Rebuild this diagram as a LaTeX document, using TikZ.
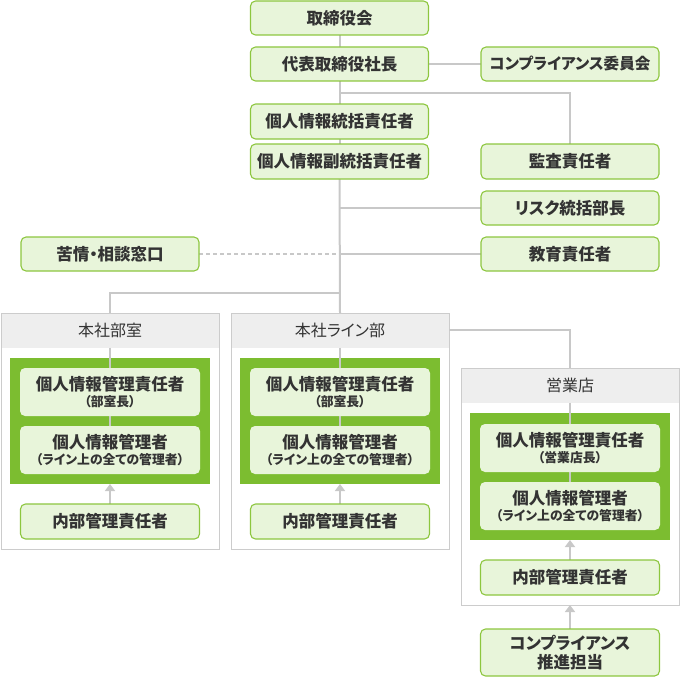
\documentclass[tikz,border=0pt]{standalone}
\usepackage{fontspec}
\setmainfont{Noto Sans CJK JP}[RawFeature=+palt]
\usetikzlibrary{arrows.meta}
\definecolor{gfill}{HTML}{E8F5DA}
\definecolor{gbord}{HTML}{8DC63F}
\definecolor{gpanel}{HTML}{7CBD30}
\definecolor{lgray}{HTML}{C8C8C8}
\definecolor{hgray}{HTML}{EEEEEE}
\definecolor{obord}{HTML}{CCCCCC}
\definecolor{txt}{HTML}{333333}
\pgfdeclarelayer{back}
\pgfdeclarelayer{mid}
\pgfsetlayers{back,mid,main}
\tikzset{
  gbox/.style={draw=gbord, fill=gfill, rounded corners=5pt, line width=1.1pt,
    inner sep=0pt, outer sep=0pt, minimum width=178pt, minimum height=34pt,
    text=txt, font=\fontsize{16.5}{18}\selectfont\bfseries, align=center},
  tallbox/.style={gbox, draw=none, minimum width=180pt, minimum height=48pt},
  conn/.style={draw=lgray, line width=2pt},
  dconn/.style={draw=lgray, line width=1.4pt, dash pattern=on 4pt off 3pt},
  arr/.style={draw=lgray, line width=2pt, -{Triangle[width=10pt,length=7pt]}},
  outer/.style={draw=obord, fill=white, line width=1pt},
  head/.style={fill=hgray, inner sep=0pt, outer sep=0pt, text=txt,
    font=\fontsize{16}{18}\selectfont},
  panel/.style={fill=gpanel, inner sep=0pt, outer sep=0pt}
}
\newcommand{\subl}[1]{\\[-2pt]{\fontsize{12.8}{14}\selectfont #1}}
\begin{document}
\begin{tikzpicture}[x=1pt,y=-1pt]
\useasboundingbox (0,0) rectangle (680,677);
% ---------- top boxes
\node[gbox] (bod) at (339.5,18) {取締役会};
\node[gbox] (ceo) at (339.5,64) {代表取締役社長};
\node[gbox, font=\fontsize{15.6}{18}\selectfont\bfseries] (comp) at (570,64) {コンプライアンス委員会};
\node[gbox, minimum height=35pt] (cpo) at (339.5,121.5) {個人情報統括責任者};
\node[gbox, minimum height=35pt] (dcpo) at (339.5,161.5) {個人情報副統括責任者};
\node[gbox, minimum height=35pt] (audit) at (570,161.5) {監査責任者};
\node[gbox] (risk) at (570,208) {リスク統括部長};
\node[gbox] (edu) at (570,254) {教育責任者};
\node[gbox] (claim) at (110,254) {苦情・相談窓口};
% ---------- department frames (back layer)
\begin{pgfonlayer}{back}
\node[outer, minimum width=218pt, minimum height=236pt, inner sep=0pt, outer sep=0pt] (hq) at (110,431) {};
\node[head, minimum width=217pt, minimum height=34pt] (hqh) at (110,330.5) {本社部室};
\node[panel, minimum width=200pt, minimum height=126pt] (hqp) at (110,421) {};
\node[outer, minimum width=218pt, minimum height=236pt, inner sep=0pt, outer sep=0pt] (ln) at (340,431) {};
\node[head, minimum width=217pt, minimum height=34pt] (lnh) at (340,330.5) {本社ライン部};
\node[panel, minimum width=200pt, minimum height=126pt] (lnp) at (340,421) {};
\node[outer, minimum width=218pt, minimum height=237pt, inner sep=0pt, outer sep=0pt] (sh) at (570,486.5) {};
\node[head, minimum width=217pt, minimum height=34pt] (shh) at (570,385.5) {営業店};
\node[panel, minimum width=200pt, minimum height=127pt] (shp) at (570,476.5) {};
\end{pgfonlayer}
% ---------- inner boxes
\node[tallbox] (hq1) at (110,392) {個人情報管理責任者\subl{（部室長）}};
\node[tallbox] (hq2) at (110,450) {個人情報管理者\subl{（ライン上の全ての管理者）}};
\node[gbox, minimum width=179pt, minimum height=35pt] (hq3) at (110,521.5) {内部管理責任者};
\node[tallbox] (ln1) at (340,392) {個人情報管理責任者\subl{（部室長）}};
\node[tallbox] (ln2) at (340,450) {個人情報管理者\subl{（ライン上の全ての管理者）}};
\node[gbox, minimum width=179pt, minimum height=35pt] (ln3) at (340,521.5) {内部管理責任者};
\node[tallbox] (sh1) at (570,448) {個人情報管理責任者\subl{（営業店長）}};
\node[tallbox] (sh2) at (570,506) {個人情報管理者\subl{（ライン上の全ての管理者）}};
\node[gbox, minimum width=179pt, minimum height=35pt] (sh3) at (570,577.5) {内部管理責任者};
\node[gbox, minimum width=179pt, minimum height=47pt, font=\fontsize{16.5}{19}\selectfont\bfseries] (promo) at (570,652.5) {コンプライアンス\\推進担当};
% ---------- connectors
\coordinate (j1) at (340,93);
\coordinate (j2) at (340,208);
\coordinate (j3) at (340,254);
\coordinate (j4) at (340,293);
\coordinate (lnr) at (449,330);
\begin{pgfonlayer}{mid}
\draw[conn] (bod.south) -- (ceo.north);
\draw[conn] (ceo.east) -- (comp.west);
\draw[conn] (ceo.south) -- (cpo.north);
\draw[conn] (j1) -| (audit.north);
\draw[conn] (cpo.south) -- (dcpo.north);
\draw[conn] (dcpo.south) -- (ln.north);
\draw[conn] (j2) -- (risk.west);
\draw[conn] (j3) -- (edu.west);
\draw[dconn] (claim.east) -- (j3);
\draw[conn] (j4) -| (hq.north);
\draw[conn] (lnr) -| (sh.north);
% inside frames
\draw[conn] (hqh.south) -- (hq1.north);
\draw[conn] (hq1.south) -- (hq2.north);
\draw[arr] (hq3.north) -- (hqp.south);
\draw[conn] (lnh.south) -- (ln1.north);
\draw[conn] (ln1.south) -- (ln2.north);
\draw[arr] (ln3.north) -- (lnp.south);
\draw[conn] (shh.south) -- (sh1.north);
\draw[conn] (sh1.south) -- (sh2.north);
\draw[arr] (sh3.north) -- (shp.south);
\draw[arr] (promo.north) -- (sh.south);
\end{pgfonlayer}
\end{tikzpicture}
\end{document}
